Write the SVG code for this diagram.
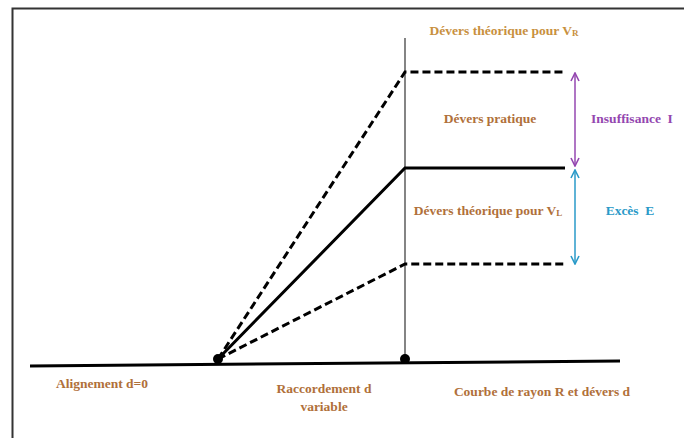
<svg xmlns="http://www.w3.org/2000/svg" width="684" height="438" viewBox="0 0 684 438">
<defs>
<style>
.t{font-family:"Liberation Serif","Times New Roman",serif;font-weight:bold;font-size:13.5px;text-anchor:middle}
.br{fill:#B0703A}
.gd{fill:#C8903E}
.pu{fill:#9447B0}
.bl{fill:#2A9AC8}
.dash{fill:none;stroke:#000;stroke-width:3;stroke-dasharray:8,4}
.solid{fill:none;stroke:#000;stroke-width:3}
</style>
<marker id="ap" viewBox="0 0 10 10" refX="9" refY="5" markerWidth="10" markerHeight="10" markerUnits="userSpaceOnUse" orient="auto-start-reverse"><path d="M1,1 L9,5 L1,9" fill="none" stroke="#9447B0" stroke-width="1.6"/></marker>
<marker id="ab" viewBox="0 0 10 10" refX="9" refY="5" markerWidth="10" markerHeight="10" markerUnits="userSpaceOnUse" orient="auto-start-reverse"><path d="M1,1 L9,5 L1,9" fill="none" stroke="#2A9AC8" stroke-width="1.6"/></marker>
</defs>
<rect width="684" height="438" fill="#fff"/>
<path d="M12.5,440 V8.5 H690" fill="none" stroke="#333" stroke-width="2"/>
<g id="connectors">
<line x1="405" y1="38" x2="405" y2="360" stroke="#333" stroke-width="1.2"/>
<line x1="30" y1="366" x2="620" y2="361" stroke="#000" stroke-width="3"/>
<polyline class="dash" points="218,359 405,72 565,72"/>
<polyline class="solid" points="218,359 405,168 565,168"/>
<polyline class="dash" points="218,359 405,264 565,264"/>
<line x1="575" y1="73" x2="575" y2="166" stroke="#9447B0" stroke-width="1.5" marker-start="url(#ap)" marker-end="url(#ap)"/>
<line x1="575" y1="170" x2="575" y2="264" stroke="#2A9AC8" stroke-width="1.5" marker-start="url(#ab)" marker-end="url(#ab)"/>
<circle cx="218" cy="359" r="5" fill="#000"/>
<circle cx="405" cy="359" r="5" fill="#000"/>
</g>
<g id="label-vr"><text class="t gd" x="504" y="35">Dévers théorique pour V<tspan font-size="9" dy="1">R</tspan></text></g>
<g id="label-pratique"><text class="t br" x="490" y="123">Dévers pratique</text></g>
<g id="label-vl"><text class="t br" x="488" y="215">Dévers théorique pour V<tspan font-size="9" dy="1">L</tspan></text></g>
<g id="label-insuffisance"><text class="t pu" x="632" y="123" xml:space="preserve">Insuffisance  I</text></g>
<g id="label-exces"><text class="t bl" x="630" y="215" xml:space="preserve">Excès  E</text></g>
<g id="label-alignement"><text class="t br" x="102" y="388">Alignement d=0</text></g>
<g id="label-raccordement"><text class="t br" x="324" y="393">Raccordement d</text><text class="t br" x="324" y="411">variable</text></g>
<g id="label-courbe"><text class="t br" x="542" y="396">Courbe de rayon R et dévers d</text></g>
</svg>
